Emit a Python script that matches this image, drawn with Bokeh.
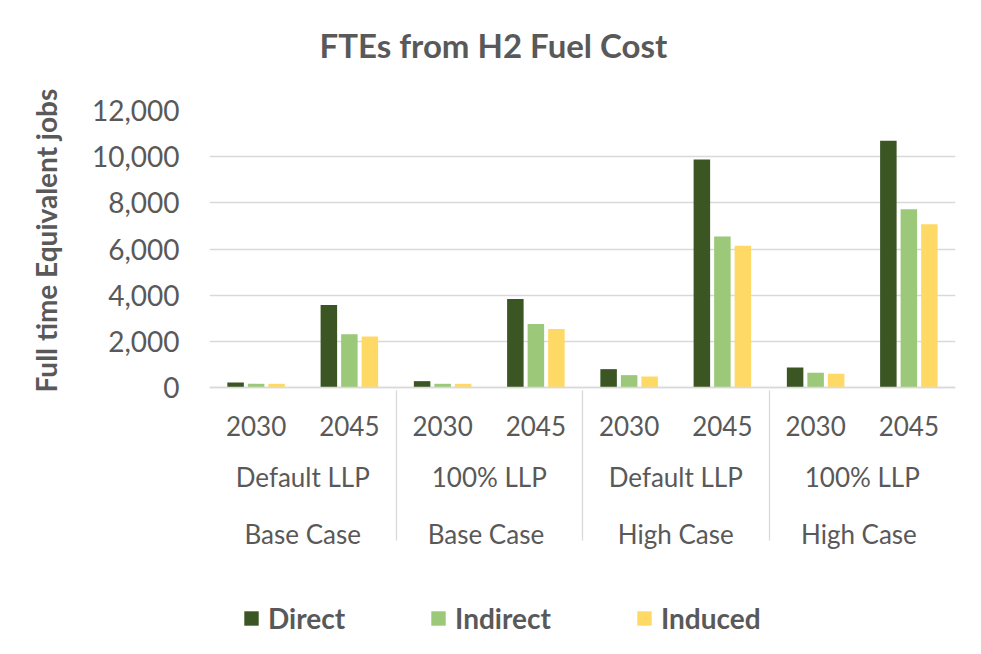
from bokeh.plotting import figure
from bokeh.models import (ColumnDataSource, FactorRange, Range1d, Legend, LegendItem,
                          FixedTicker, NumeralTickFormatter, Title, CategoricalAxis)
from bokeh.transform import dodge
from bokeh.embed import file_html
from bokeh.resources import INLINE

# ---- data ----
cases = ["Base Case", "Base Case", "High Case", "High Case"]
llps = ["Default LLP", "100% LLP", "Default LLP", "100% LLP"]
years = ["2030", "2045"]
direct = [220, 3570, 275, 3830, 795, 9880, 870, 10690]
indirect = [160, 2310, 160, 2750, 535, 6540, 636, 7720]
induced = [160, 2210, 160, 2530, 477, 6145, 593, 7070]
series_names = ["Direct", "Indirect", "Induced"]
series_colors = ["#3B5623", "#9CC87A", "#FFD966"]
y_ticks = [0, 2000, 4000, 6000, 8000, 10000, 12000]

FONT = "Lato"
TXT = "#595959"
GRID = "#D9D9D9"

# make each outer group label unique so every column gets its own "Case" label
factors = []
for i, (c, l) in enumerate(zip(cases, llps)):
    for y in years:
        factors.append((c + " " * (i % 2), l, y))

source = ColumnDataSource(data=dict(x=factors, Direct=direct, Indirect=indirect, Induced=induced))

# frame extends below zero so the category labels and legend sit inside it
Y_MAX = 12000
VALUE_PX = 277
FRAME_H = 540
y_start = -Y_MAX * (FRAME_H - VALUE_PX) / VALUE_PX

p = figure(
    x_range=FactorRange(*factors, factor_padding=0, subgroup_padding=0, group_padding=0, range_padding=0),
    y_range=Range1d(y_start, Y_MAX),
    frame_width=746, frame_height=FRAME_H,
    min_border_left=205, min_border_right=30, min_border_top=110, min_border_bottom=0,
    x_axis_location=None,
    output_backend="svg", toolbar_location=None,
)
p.title = Title(text="FTEs from H2 Fuel Cost\n", align="left", offset=110,
                text_font=FONT, text_font_size="33px", text_font_style="bold",
                text_color=TXT, standoff=12)
p.outline_line_color = None
p.background_fill_color = "white"
p.border_fill_color = "white"

width = 0.177
offsets = [-0.22, 0.0, 0.22]
renderers = []
for name, col, off in zip(series_names, series_colors, offsets):
    r = p.vbar(x=dodge("x", off, range=p.x_range), top=name, width=width, source=source,
               fill_color=col, line_color=None)
    renderers.append(r)

# y axis
p.yaxis.ticker = FixedTicker(ticks=y_ticks)
p.yaxis.formatter = NumeralTickFormatter(format="0,0")
p.yaxis.axis_line_color = None
p.yaxis.major_tick_line_color = None
p.yaxis.minor_tick_line_color = None
p.yaxis.major_label_standoff = 24
p.yaxis.major_label_text_font = FONT
p.yaxis.major_label_text_font_size = "28px"
p.yaxis.major_label_text_color = TXT

# vertical axis title, placed beside the 0..12,000 part of the axis
p.add_layout(Title(text="Full time Equivalent jobs", align="left", offset=258,
                   text_font=FONT, text_font_size="28px", text_font_style="bold",
                   text_color=TXT, standoff=52), "left")

p.ygrid.grid_line_color = GRID
p.ygrid.grid_line_width = 1.3
p.xgrid.visible = False

# x axis, drawn at y = 0
xa = CategoricalAxis(fixed_location=0)
xa.axis_line_color = GRID
xa.axis_line_width = 1.3
xa.major_tick_line_color = None
xa.minor_tick_line_color = None
xa.major_label_standoff = 22
xa.major_label_text_font = FONT
xa.major_label_text_font_size = "26px"
xa.major_label_text_color = TXT
xa.subgroup_text_font = FONT
xa.subgroup_text_font_size = "26px"
xa.subgroup_text_font_style = "normal"
xa.subgroup_text_color = TXT
xa.group_text_font = FONT
xa.group_text_font_size = "26px"
xa.group_text_font_style = "normal"
xa.group_text_color = TXT
xa.separator_line_color = GRID
xa.separator_line_width = 1.3
p.add_layout(xa, "below")

legend = Legend(items=[LegendItem(label=n, renderers=[r]) for n, r in zip(series_names, renderers)],
                orientation="horizontal", location=(33, 15),
                glyph_width=18, glyph_height=18, spacing=84, label_standoff=8,
                label_text_font=FONT, label_text_font_size="28px", label_text_font_style="bold",
                label_text_color=TXT, border_line_color=None, background_fill_alpha=0,
                margin=0, padding=0)
p.add_layout(legend)

open("out.html", "w").write(file_html(p, INLINE))
